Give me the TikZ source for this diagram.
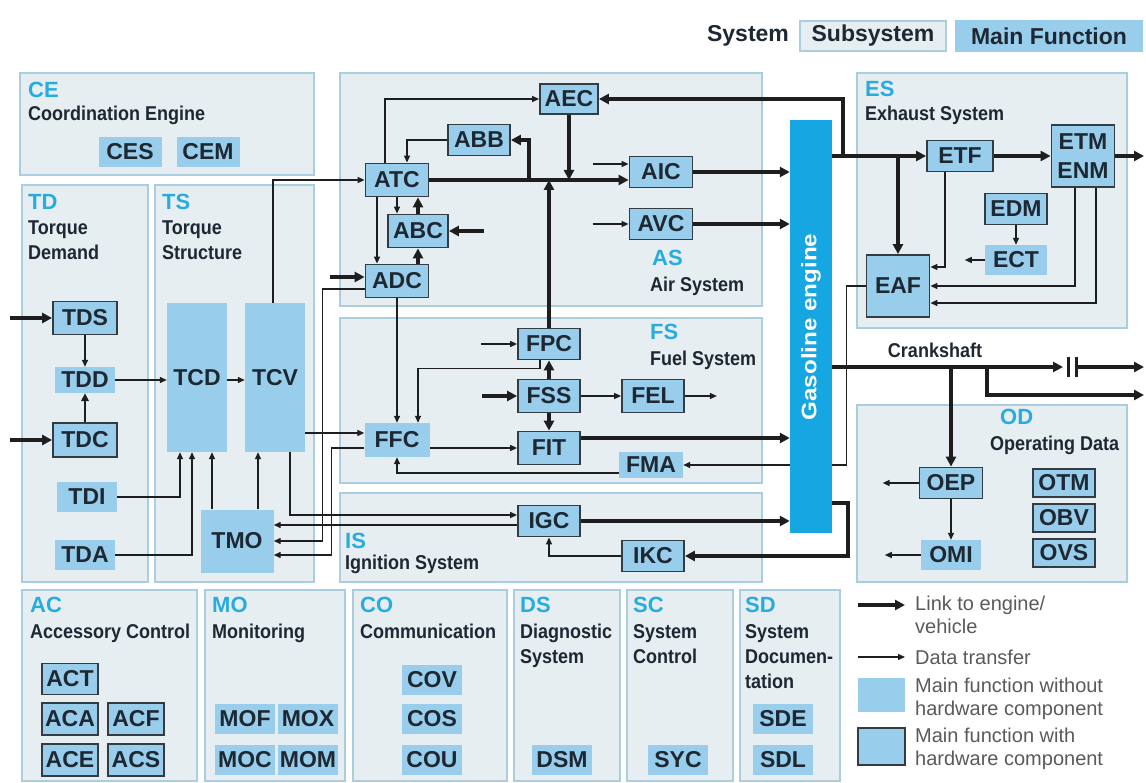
\documentclass[tikz,border=0pt]{standalone}
\usepackage{fontspec}
\setmainfont{Liberation Sans}
\newfontfamily\cnd[FakeStretch=0.9]{Liberation Sans}
\newfontfamily\wde[FakeStretch=1.15]{Liberation Sans}
\usetikzlibrary{arrows.meta}
\definecolor{subf}{RGB}{230,238,242}
\definecolor{subd}{RGB}{170,206,224}
\definecolor{mfc}{RGB}{152,206,236}
\definecolor{bdr}{RGB}{50,60,66}
\definecolor{lc}{RGB}{30,30,30}
\definecolor{txt}{RGB}{30,40,50}
\definecolor{cyn}{RGB}{40,172,222}
\definecolor{engc}{RGB}{22,166,226}
\definecolor{lgt}{RGB}{90,90,90}
\pgfdeclarelayer{bg}\pgfdeclarelayer{ln}\pgfsetlayers{bg,ln,main}
\tikzset{
 fn/.style={fill=mfc, inner sep=0pt, text=txt, font=\fontsize{23}{24}\selectfont\bfseries, minimum height=31pt, minimum width=62pt},
 fh/.style={fn, draw=bdr, line width=1.8pt},
 sub/.style={fill=subf, draw=subd, line width=2pt},
 ab/.style={text=cyn, font=\fontsize{22}{22}\selectfont\bfseries, inner sep=0pt, anchor=north west},
 sn/.style={text=txt, font=\cnd\fontsize{20}{25}\selectfont\bfseries, inner sep=0pt, anchor=north west, align=left},
 tk/.style={draw=lc, line width=3.4pt, -{Triangle[length=10pt,width=10pt]}},
 md/.style={draw=lc, line width=2.2pt, -{Triangle[length=8pt,width=7.5pt]}},
 tn/.style={draw=lc, line width=1.3pt, -{Triangle[length=7pt,width=6pt]}},
 lg/.style={text=lgt, font=\fontsize{20}{23}\selectfont, inner sep=0pt, anchor=west, align=left},
 tp/.style={text=txt, font=\fontsize{23}{24}\selectfont\bfseries, inner sep=0pt},
}
\begin{document}
\begin{tikzpicture}[x=1pt,y=-1pt]
\useasboundingbox (0,0) rectangle (1146,783);
\begin{pgfonlayer}{bg}
\fill[white] (0,0) rectangle (1146,783);
% subsystems
\path[sub] (20,73) rectangle (314,175);
\path[sub] (22,185) rectangle (148,582);
\path[sub] (155,185) rectangle (314,582);
\path[sub] (340,73) rectangle (762,306);
\path[sub] (340,318) rectangle (762,483);
\path[sub] (340,493) rectangle (762,582);
\path[sub] (857,73) rectangle (1127,328);
\path[sub] (857,405) rectangle (1127,582);
\path[sub] (22,590) rectangle (197,781);
\path[sub] (205,590) rectangle (345,781);
\path[sub] (353,590) rectangle (507,781);
\path[sub] (514,590) rectangle (620,781);
\path[sub] (627,590) rectangle (733,781);
\path[sub] (740,590) rectangle (840,781);
\end{pgfonlayer}

% top legend
\node[tp] (lsys) at (748,36) {System};
\node[tp, fill=subf, draw=subd, line width=2pt, minimum width=146pt, minimum height=30pt] (lsub) at (873,36) {Subsystem};
\node[tp, fill=mfc, minimum width=188pt, minimum height=32pt] (lmf) at (1049,36) {Main Function};

% subsystem labels
\node[ab] (aCE) at (28,82) {CE};
\node[sn] (nCE) at (28,106) {Coordination Engine};
\node[ab] (aTD) at (28,194) {TD};
\node[sn] (nTD) at (28,221) {Torque\\Demand};
\node[ab] (aTS) at (162,194) {TS};
\node[sn] (nTS) at (162,221) {Torque\\Structure};
\node[ab] (aAS) at (652,250) {AS};
\node[sn] (nAS) at (650,277) {Air System};
\node[ab] (aFS) at (650,324) {FS};
\node[sn] (nFS) at (650,351) {Fuel System};
\node[ab] (aIS) at (345,533) {IS};
\node[sn] (nIS) at (345,555) {Ignition System};
\node[ab] (aES) at (865,81) {ES};
\node[sn] (nES) at (865,106) {Exhaust System};
\node[ab] (aOD) at (1000,409) {OD};
\node[sn] (nOD) at (990,436) {Operating Data};
\node[ab] (aAC) at (30,597) {AC};
\node[sn] (nAC) at (30,624) {Accessory Control};
\node[ab] (aMO) at (212,597) {MO};
\node[sn] (nMO) at (212,624) {Monitoring};
\node[ab] (aCO) at (360,597) {CO};
\node[sn] (nCO) at (360,624) {Communication};
\node[ab] (aDS) at (520,597) {DS};
\node[sn] (nDS) at (520,624) {Diagnostic\\System};
\node[ab] (aSC) at (633,597) {SC};
\node[sn] (nSC) at (633,624) {System\\Control};
\node[ab] (aSD) at (745,597) {SD};
\node[sn] (nSD) at (745,624) {System\\Documen-\\tation};

% engine
\node[fill=engc, minimum width=42pt, minimum height=413pt, inner sep=0pt] (ENG) at (811,326.5) {};
\node[rotate=90, text=white, font=\wde\fontsize{21}{21}\selectfont\bfseries, inner sep=0pt] (tENG) at (811,327) {Gasoline engine};

% CE
\node[fn, minimum width=63pt, minimum height=30pt] (CES) at (130,152) {CES};
\node[fn, minimum width=63pt, minimum height=30pt] (CEM) at (208,152) {CEM};
% AS
\node[fh, minimum width=58pt, minimum height=30pt] (AEC) at (569,99) {AEC};
\node[fh] (ABB) at (479,140) {ABB};
\node[fh, minimum width=63pt, minimum height=33pt] (ATC) at (397,180) {ATC};
\node[fh, minimum width=60pt, minimum height=33pt] (ABC) at (418,231) {ABC};
\node[fh, minimum width=63pt, minimum height=33pt] (ADC) at (397,281) {ADC};
\node[fh, minimum width=63pt] (AIC) at (661,172) {AIC};
\node[fh, minimum width=63pt] (AVC) at (661,224) {AVC};
% FS
\node[fh] (FPC) at (549,344) {FPC};
\node[fh, minimum height=33pt] (FSS) at (549,396) {FSS};
\node[fh, minimum height=33pt] (FEL) at (653,396) {FEL};
\node[fh, minimum height=33pt] (FIT) at (549,448) {FIT};
\node[fn, minimum width=65pt, minimum height=34pt] (FFC) at (397,440) {FFC};
\node[fn, minimum width=64pt, minimum height=26pt] (FMA) at (651,465) {FMA};
% IS
\node[fh] (IGC) at (549,521) {IGC};
\node[fh] (IKC) at (653,556) {IKC};
% TD
\node[fh, minimum width=64pt, minimum height=33pt] (TDS) at (85,318) {TDS};
\node[fn, minimum width=60pt, minimum height=26pt] (TDD) at (85,380) {TDD};
\node[fh, minimum width=64pt, minimum height=34pt] (TDC) at (85,440) {TDC};
\node[fn, minimum width=60pt, minimum height=30pt] (TDI) at (87,497) {TDI};
\node[fn, minimum width=60pt, minimum height=30pt] (TDA) at (85,555) {TDA};
% TS
\node[fn, minimum width=60pt, minimum height=149pt] (TCD) at (197,377.5) {TCD};
\node[fn, minimum width=60pt, minimum height=149pt] (TCV) at (275,377.5) {TCV};
\node[fn, minimum width=73pt, minimum height=63pt] (TMO) at (237,541) {TMO};
% ES
\node[fh, minimum width=66pt] (ETF) at (960,156) {ETF};
\node[fh, minimum width=63pt, minimum height=62pt, align=center, font=\fontsize{23}{29}\selectfont\bfseries] (ETM) at (1083,156) {ETM\\ENM};
\node[fh] (EDM) at (1016,209) {EDM};
\node[fn, minimum height=30pt] (ECT) at (1016,260) {ECT};
\node[fh, minimum width=63pt, minimum height=62pt] (EAF) at (898,286) {EAF};
% OD
\node[fh, minimum width=63pt] (OEP) at (951,483) {OEP};
\node[fn, minimum width=60pt, minimum height=30pt] (OMI) at (951,555) {OMI};
\node[fh, minimum height=28pt] (OTM) at (1064,483) {OTM};
\node[fh, minimum height=28pt] (OBV) at (1064,518) {OBV};
\node[fh, minimum height=28pt] (OVS) at (1064,553) {OVS};
% bottom row
\node[fh, minimum width=56pt, minimum height=31pt] (ACT) at (70,679) {ACT};
\node[fh, minimum width=56pt, minimum height=32pt] (ACA) at (70,719) {ACA};
\node[fh, minimum width=56pt, minimum height=32pt] (ACF) at (136,719) {ACF};
\node[fh, minimum width=56pt, minimum height=32pt] (ACE) at (70,760) {ACE};
\node[fh, minimum width=56pt, minimum height=32pt] (ACS) at (136,760) {ACS};
\node[fn, minimum width=60pt, minimum height=30pt] (MOF) at (245,719) {MOF};
\node[fn, minimum width=60pt, minimum height=30pt] (MOX) at (308,719) {MOX};
\node[fn, minimum width=60pt, minimum height=30pt] (MOC) at (245,760) {MOC};
\node[fn, minimum width=60pt, minimum height=30pt] (MOM) at (308,760) {MOM};
\node[fn, minimum width=60pt, minimum height=30pt] (COV) at (432,680) {COV};
\node[fn, minimum width=60pt, minimum height=30pt] (COS) at (432,719) {COS};
\node[fn, minimum width=60pt, minimum height=30pt] (COU) at (432,760) {COU};
\node[fn, minimum width=60pt, minimum height=30pt] (DSM) at (562,760) {DSM};
\node[fn, minimum width=60pt, minimum height=30pt] (SYC) at (678,760) {SYC};
\node[fn, minimum width=60pt, minimum height=30pt] (SDE) at (783,719) {SDE};
\node[fn, minimum width=60pt, minimum height=30pt] (SDL) at (783,760) {SDL};

% bottom-right legend
\coordinate (lk1) at (858,605); \coordinate (lk2) at (905,605);
\draw[tk] (lk1) -- (lk2);
\node[lg] (tlk) at (915,615) {Link to engine/\\vehicle};
\coordinate (dt1) at (858,657); \coordinate (dt2) at (905,657);
\draw[tn] (dt1) -- (dt2);
\node[lg] (tdt) at (915,657) {Data transfer};
\path[fill=mfc] (858,678) rectangle (905,712);
\node[lg] (tmf1) at (915,699) {Main function without\\hardware component};
\path[fill=mfc, draw=bdr, line width=2pt] (858,728) rectangle (905,765);
\node[lg] (tmf2) at (915,749) {Main function with\\hardware component};

\node[sn, anchor=center] (tCk) at (935,350) {Crankshaft};

\begin{pgfonlayer}{ln}
% ES
\coordinate (jEx) at (843,156);
\draw[tk] (ENG.east |- ETF.west) -- (ETF.west);
\draw[tk] (jEx) |- (AEC.east);
\draw[tk] (EAF.north |- ETF.west) -- (EAF.north);
\draw[tk] (ETF.east) -- (ETM.west);
\coordinate (oEx) at (1144,156);
\draw[tk] (ETM.east) -- (oEx);
\draw[tn] ([xshift=-15pt]ETF.south) |- ([yshift=19pt]EAF.east);
\draw[tn] ([xshift=-8pt]ETM.south) |- (EAF.east);
\draw[tn] ([xshift=13pt]ETM.south) |- ([yshift=-17pt]EAF.east);
\draw[tn] (EDM.south) -- (ECT.north);
\draw[tn] (ECT.west) -- ++(-20,0);
\draw[tn] (EAF.west) -- ++(-19,0) |- (FMA.east);
% crankshaft
\coordinate (ck) at (832,367);
\coordinate (cl) at (1063,367);
\coordinate (cr) at (1078,367);
\coordinate (o1) at (1144,367);
\coordinate (o2) at (1144,395);
\coordinate (jCk) at (987,367);
\draw[tk] (ck) -- (cl);
\draw[lc, line width=3pt] (1068,357) -- (1068,377) (1076,357) -- (1076,377);
\draw[tk] (cr) -- (o1);
\draw[tk] (jCk) |- (o2);
\draw[tk] (OEP.north |- ck) -- (OEP.north);
% OD
\draw[tn] (OEP.west) -- ++(-36,0);
\draw[tn] (OEP.south) -- (OMI.north);
\draw[tn] (OMI.west) -- ++(-36,0);
% engine links
\draw[tk] (AIC.east) -- (AIC.east -| ENG.west);
\draw[tk] (AVC.east) -- (AVC.east -| ENG.west);
\draw[tk] ([yshift=10pt]FIT.east) -- ([yshift=10pt]FIT.east -| ENG.west);
\draw[tk] (IGC.east) -- (IGC.east -| ENG.west);
\coordinate (eK) at (832,503);
\draw[tk] (eK) -- ++(16,0) |- (IKC.east);
% AS
\coordinate (jB) at (529,180);
\draw[tk] (ATC.east) -- (ATC.east -| AIC.west);
\draw[tk] (jB) |- (ABB.east);
\draw[tk] (AEC.south) -- (AEC.south |- ATC.east);
\draw[tk] (FPC.north) -- (FPC.north |- ATC.east);
\draw[tn] ([shift={(-36pt,8pt)}]AIC.west) -- ([yshift=8pt]AIC.west);
\draw[tn] ([xshift=-36pt]AVC.west) -- (AVC.west);
\draw[tn] ([xshift=-12pt]ATC.north) |- (AEC.west);
\draw[tn] (ABB.west) -| ([xshift=10pt]ATC.north);
\draw[tn] (ATC.south) -- (ATC.south |- ABC.north);
\draw[tk] (ABC.north) -- (ABC.north |- ATC.south);
\draw[tk] ([xshift=35pt]ABC.east) -- (ABC.east);
\draw[tk] (ABC.south |- ADC.north) -- (ABC.south);
\draw[tn] ([xshift=-20pt]ATC.south) -- ([xshift=-20pt]ADC.north);
\draw[tn] ([xshift=-2pt]TCV.north) |- (ATC.west);
\draw[tk] ([shift={(-35pt,4pt)}]ADC.west) -- ([yshift=4pt]ADC.west);
\draw[tn] ([yshift=-8pt]ADC.west) -- ++(-42,0) |- (TMO.east);
\draw[tn] (ADC.south) -- (ADC.south |- FFC.north);
% FS / IS
\draw[tn] ([yshift=-8pt]FFC.west) -- ++(-33,0) |- ([yshift=-14pt]TMO.east);
\draw[tn] ([xshift=15pt]TCV.south) |- ([yshift=6pt]IGC.west);
\draw[tn] ([yshift=-4pt]IGC.west) -- ([yshift=-4pt]IGC.west -| TMO.east);
\draw[tn] ([yshift=7pt]FFC.west -| TCV.east) -- ([yshift=7pt]FFC.west);
\draw[tn] ([xshift=-9pt]FPC.south) -- ++(0,8) -| ([xshift=21pt]FFC.north);
\draw[tk] (FSS.north) -- (FPC.south);
\draw[tk] (FSS.south) -- (FIT.north);
\draw[tk] ([xshift=-35pt]FSS.west) -- (FSS.west);
\draw[tn] (FSS.east) -- (FEL.west);
\draw[tn] (FEL.east) -- ++(32,0);
\draw[tn] ([xshift=-36pt]FPC.west) -- (FPC.west);
\draw[tn] ([yshift=-8pt]FFC.east) -- ([yshift=-8pt]FFC.east -| FIT.west);
\draw[tn] ([yshift=-8pt]FMA.west) -| (FFC.south);
\draw[tn] (IKC.west) -| (IGC.south);
% TD / TS
\draw[tk] ([xshift=-42pt]TDS.west) -- (TDS.west);
\draw[tn] (TDS.south) -- (TDD.north);
\draw[md] (TDC.north) -- (TDD.south);
\draw[tk] ([xshift=-42pt]TDC.west) -- (TDC.west);
\draw[tn] (TDD.east) -- (TDD.east -| TCD.west);
\draw[tn] (TCD.east |- TDD.east) -- (TCV.west |- TDD.east);
\draw[tn] (TDI.east) -| ([xshift=-17pt]TCD.south);
\draw[tn] (TDA.east) -| ([xshift=-5pt]TCD.south);
\draw[tn] ([xshift=-25pt]TMO.north) -- ([xshift=-25pt]TMO.north |- TCD.south);
\draw[tn] ([xshift=21pt]TMO.north) -- ([xshift=21pt]TMO.north |- TCV.south);
\end{pgfonlayer}
\end{tikzpicture}
\end{document}
